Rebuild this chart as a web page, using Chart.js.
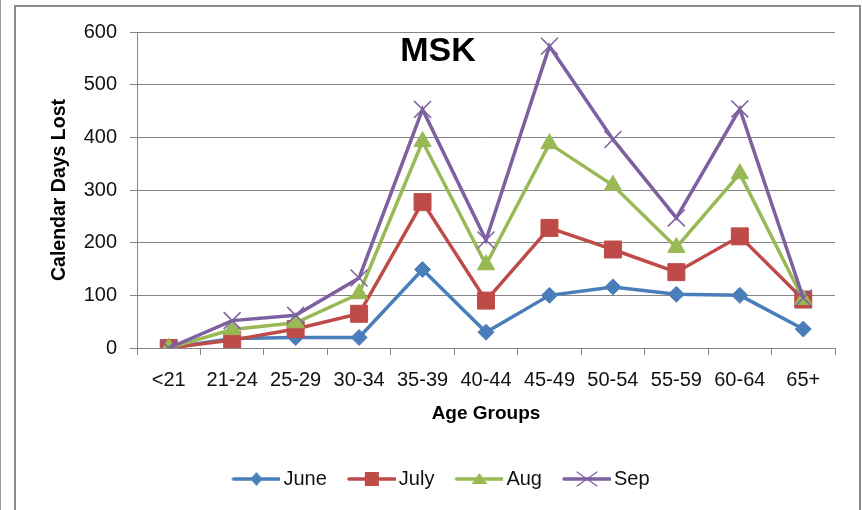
<!DOCTYPE html>
<html><head><meta charset="utf-8">
<script src="https://cdn.jsdelivr.net/npm/chart.js@4"></script>
<style>
html,body{margin:0;padding:0;background:#fff;}
#wrap{position:relative;width:862px;height:510px;overflow:hidden;background:#fff;}
#frame{position:absolute;left:14px;top:5px;width:843px;height:520px;border:2px solid #8a8a8a;border-bottom:none;}
#edge{position:absolute;left:0;top:0;width:1px;height:510px;background:#9a9a9a;}
canvas{position:absolute;left:0;top:0;}
</style></head><body>
<div id="wrap"><div id="edge"></div><div id="frame"></div><canvas id="c" width="862" height="510"></canvas></div>
<script>
const TITLE = 'MSK';
const Y_TITLE = 'Calendar Days Lost';
const X_TITLE = 'Age Groups';
const categories = ['<21','21-24','25-29','30-34','35-39','40-44','45-49','50-54','55-59','60-64','65+'];
const june = [0, 18, 20, 20, 149, 30, 100, 116, 102, 100, 36];
const july = [0, 15, 36, 65, 277, 90, 228, 187, 144, 212, 92];
const aug  = [0, 35, 48, 103, 392, 158, 388, 309, 191, 331, 92];
const sep  = [0, 52, 62, 133, 453, 205, 573, 396, 247, 454, 95];
const yTicks = [0, 100, 200, 300, 400, 500, 600];

const FONT = '"Liberation Sans", Arial, sans-serif';
const colors = {June:'#4A7EBB', July:'#BE4B48', Aug:'#98B954', Sep:'#7D60A0'};

function drawMarker(ctx, style, x, y, color) {
  ctx.save();
  ctx.fillStyle = color; ctx.strokeStyle = color;
  ctx.beginPath();
  if (style === 'rectRot') {
    ctx.moveTo(x, y-7); ctx.lineTo(x+6, y); ctx.lineTo(x, y+7); ctx.lineTo(x-6, y); ctx.closePath(); ctx.fill();
  } else if (style === 'rect') {
    ctx.rect(x-7, y-7, 14, 14); ctx.fill();
  } else if (style === 'triangle') {
    ctx.moveTo(x, y-6); ctx.lineTo(x+8, y+5); ctx.lineTo(x-8, y+5); ctx.closePath(); ctx.fill();
  } else {
    ctx.lineWidth = 1.2;
    ctx.moveTo(x-10, y-7); ctx.lineTo(x+10, y+7); ctx.moveTo(x+10, y-7); ctx.lineTo(x-10, y+7); ctx.stroke();
  }
  ctx.restore();
}
function legendImage(color, style) {
  const cv = document.createElement('canvas');
  cv.width = 66; cv.height = 20;
  const g = cv.getContext('2d');
  g.strokeStyle = color; g.lineWidth = 3.5; g.lineCap = 'round';
  g.beginPath(); g.moveTo(19, 10); g.lineTo(65, 10); g.stroke();
  drawMarker(g, style, 42, 10, color);
  return cv;
}
const styles = ['rectRot','rect','triangle','crossRot'];
const names = ['June','July','Aug','Sep'];
const legendImgs = names.map((n,i) => legendImage(colors[n], styles[i]));

function ds(label, data, style, radius, order, bw) {
  return {
    label, data, order,
    borderColor: colors[label], backgroundColor: colors[label],
    pointBackgroundColor: colors[label], pointBorderColor: colors[label],
    borderWidth: 3.5, tension: 0,
    pointStyle: style, pointRadius: radius, pointHoverRadius: radius,
    pointBorderWidth: bw
  };
}

const titlePlugin = {
  id: 'mskTitle',
  afterDraw(chart) {
    const c = chart.ctx;
    c.save();
    c.font = 'bold 34px ' + FONT;
    c.fillStyle = '#000';
    c.textAlign = 'center';
    c.textBaseline = 'middle';
    c.fillText(TITLE, (chart.width + 14) / 2, chart.chartArea.top + 20);
    c.restore();
  }
};

new Chart(document.getElementById('c'), {
  type: 'line',
  data: {
    labels: categories,
    datasets: [
      ds('June', june, 'rectRot', 8, 3, 1),
      ds('July', july, 'rect', 12, 2, 1),
      ds('Aug', aug, 'triangle', 10, 1, 1),
      ds('Sep', sep, 'crossRot', 12, 0, 1.5)
    ]
  },
  options: {
    responsive: false,
    animation: false,
    events: [],
    layout: { padding: { left: 36, right: 27, top: 32, bottom: 11 } },
    plugins: {
      tooltip: { enabled: false },
      title: { display: false },
      legend: {
        position: 'bottom',
        labels: {
          usePointStyle: true,
          pointStyleWidth: 52,
          padding: 10,
          color: '#111',
          font: { family: FONT, size: 20 },
          sort: (a, b) => a.datasetIndex - b.datasetIndex,
          generateLabels(chart) {
            const items = Chart.defaults.plugins.legend.labels.generateLabels(chart);
            items.forEach(it => { it.pointStyle = legendImgs[it.datasetIndex]; });
            return items;
          }
        }
      }
    },
    scales: {
      x: {
        type: 'category',
        offset: true,
        grid: { display: true, offset: true, drawOnChartArea: false, drawTicks: true, tickLength: 7, color: '#868686', lineWidth: 1 },
        border: { display: true, color: '#868686', width: 1 },
        ticks: { color: '#111', font: { family: FONT, size: 20, lineHeight: 1 }, padding: 15, maxRotation: 0, autoSkip: false },
        title: { display: true, text: X_TITLE, color: '#000', font: { family: FONT, size: 19, weight: 'bold', lineHeight: 1 }, padding: { top: 0, bottom: 36 } },
        afterFit(scale) { scale.height = 111; }
      },
      y: {
        min: 0, max: 600,
        afterBuildTicks(scale) { scale.ticks = yTicks.map(v => ({ value: v })); },
        grid: { color: '#868686', lineWidth: 1, tickLength: 7, drawTicks: true },
        border: { display: true, color: '#868686', width: 1 },
        ticks: { color: '#111', font: { family: FONT, size: 20 }, padding: 13 },
        title: { display: true, text: Y_TITLE, color: '#000', font: { family: FONT, size: 19.5, weight: 'bold', lineHeight: 1 }, padding: { top: 14, bottom: 0 } },
        afterFit(scale) { scale.width = 101; }
      }
    }
  },
  plugins: [titlePlugin]
});
</script>
</body></html>
